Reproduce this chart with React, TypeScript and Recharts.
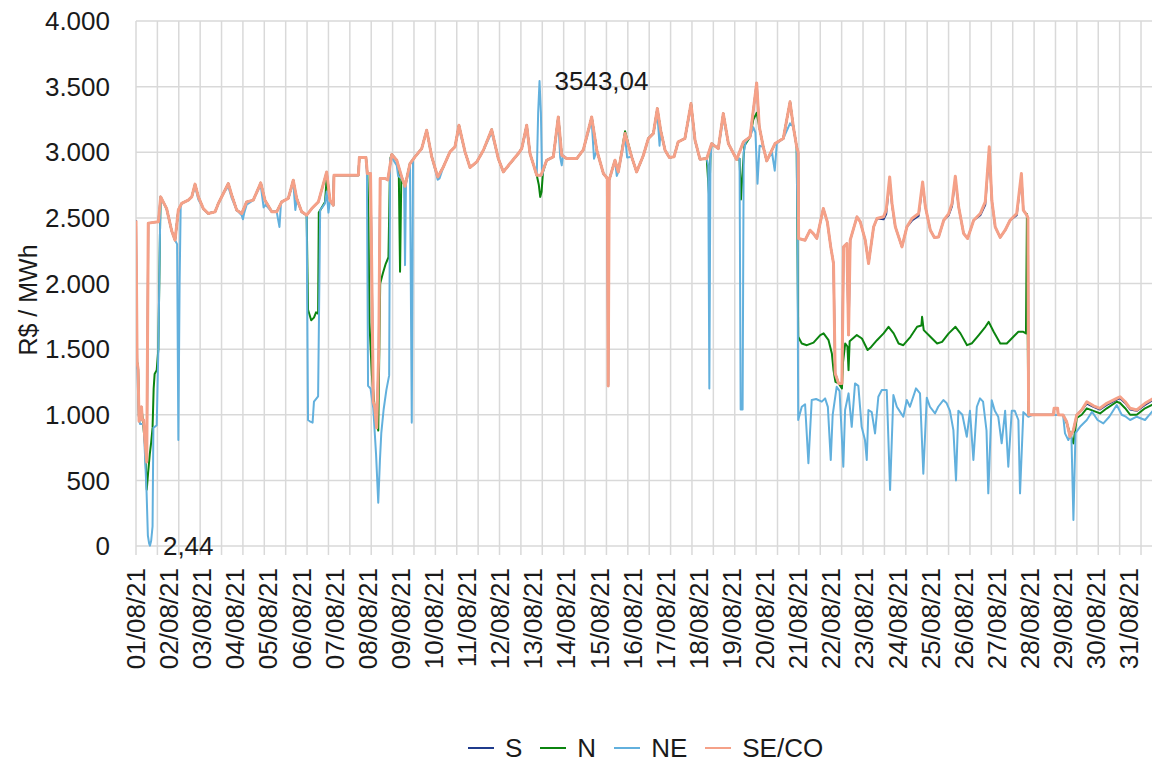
import { LineChart, Line, XAxis, YAxis, CartesianGrid, ReferenceDot } from "recharts";

// hour index from 01/08/21 00h (0 .. 744), price in R$/MWh
const dayLabels = [
  "01/08/21", "02/08/21", "03/08/21", "04/08/21", "05/08/21", "06/08/21", "07/08/21", "08/08/21",
  "09/08/21", "10/08/21", "11/08/21", "12/08/21", "13/08/21", "14/08/21", "15/08/21", "16/08/21",
  "17/08/21", "18/08/21", "19/08/21", "20/08/21", "21/08/21", "22/08/21", "23/08/21", "24/08/21",
  "25/08/21", "26/08/21", "27/08/21", "28/08/21", "29/08/21", "30/08/21", "31/08/21",
];
const dayTicks = dayLabels.map((_, i) => i * 24);
const gridTicks = Array.from({ length: 49 }, (_, i) => i * 15.5);
const yTicks = [0, 500, 1000, 1500, 2000, 2500, 3000, 3500, 4000];

const seco: [number, number][] = [
  [0, 2480], [0.8, 1400], [1.5, 1350], [2.2, 950], [3, 1000], [4, 1060], [4.6, 960], [5.5, 960], [6.5, 800], [7.8, 640], [8.9, 2460],
  [16.2, 2470], [17.9, 2660], [19.8, 2620], [22.2, 2570], [25.9, 2400], [28.3, 2330], [30.7, 2560], [33.1, 2610], [37.9, 2635],
  [40.4, 2660], [42.8, 2757], [45.2, 2660], [48.8, 2570], [52.4, 2533], [57.3, 2546], [59.7, 2610], [63.3, 2686], [66.9, 2762],
  [69.4, 2673], [73, 2559], [76.6, 2533], [80.2, 2622], [85, 2635], [90.4, 2767], [93.5, 2635], [98.4, 2546], [102, 2546],
  [105.6, 2622], [110.4, 2648], [114, 2787], [116.5, 2648], [120.1, 2546], [123.7, 2521], [127.4, 2571], [132.2, 2622],
  [138.2, 2850], [140.6, 2635], [143, 2597], [143.5, 2825], [161.2, 2825], [161.9, 2960], [166.7, 2960], [167.7, 2838],
  [170, 2838], [171, 2000], [172, 1100], [173, 1060], [174.5, 900], [176, 1500], [177, 2800], [180.5, 2800], [182.5, 2790],
  [185.4, 2983], [189, 2939], [192.6, 2812], [195, 2741], [198.6, 2914], [202.2, 2965], [207.1, 3028], [210.7, 3168],
  [214.4, 2965], [218.7, 2812], [222.8, 2888], [227.6, 3003], [231.2, 3041], [234.1, 3206], [238.5, 3003], [242.1, 2884],
  [247, 2926], [251.8, 3015], [257.8, 3173], [262.6, 2952], [266.3, 2850], [271.1, 2914], [277.1, 2990], [279.6, 3028],
  [283.2, 3206], [285.6, 2990], [290.5, 2825], [293.6, 2825], [297.7, 2939], [302.5, 2965], [306.1, 3269], [308.6, 2977],
  [312.2, 2952], [319.5, 2952], [324.3, 3020], [330.3, 3269], [334, 3015], [338.8, 2838], [341.7, 2800], [342.3, 1220],
  [343, 2790], [347.2, 2939], [349.6, 2850], [354.5, 3143], [359.3, 2965], [362.9, 2850], [367.8, 2977], [371.4, 3105],
  [375, 3143], [377.9, 3333], [380.3, 3167], [383.5, 3015], [386.6, 2960], [390, 2965], [393, 3079], [397.9, 3105],
  [402.3, 3371], [405.2, 3092], [408.8, 2947], [413.7, 2952], [417.3, 3066], [422.1, 3028], [425.7, 3295], [429.4, 3066],
  [435.4, 2945], [440.3, 3079], [445.1, 3117], [449.9, 3528], [451.8, 3193], [454.7, 3041], [457.2, 2934], [463.2, 3066],
  [469.2, 3105], [474.1, 3384], [476.5, 3193], [478.9, 3041], [480, 3000], [480.3, 2343], [485, 2330], [488.6, 2406],
  [491, 2380], [493.5, 2343], [498.2, 2571], [501.1, 2470], [503.6, 2279], [505.6, 2153], [506.8, 1315], [509.3, 1239],
  [511.7, 1239], [512.9, 2279], [515.3, 2305], [516.5, 1607], [517.7, 2330], [522.6, 2508], [525, 2470], [528.6, 2330],
  [531, 2153], [534.7, 2432], [537.1, 2495], [541.9, 2508], [543.8, 2559], [546.3, 2812], [548, 2610], [550.4, 2432],
  [555.2, 2279], [558.8, 2432], [562.5, 2495], [567.3, 2533], [570.2, 2774], [572.2, 2584], [575.8, 2406], [578.7, 2351],
  [581.8, 2355], [585.5, 2482], [589.1, 2533], [591.5, 2610], [593.9, 2818], [596.3, 2584], [599.9, 2381], [602.8, 2343],
  [607.2, 2482], [612, 2533], [615.6, 2622], [618.5, 3041], [620.4, 2630], [622.8, 2432], [626.4, 2351], [630, 2406],
  [633.6, 2482], [638.4, 2533], [641.8, 2838], [643.2, 2559], [645.7, 2521], [646.5, 2500], [647, 1000], [665, 1000],
  [665.5, 1050], [668, 1050], [668.5, 1000], [672, 998], [674.6, 947], [677, 832], [679.5, 883], [681.9, 998], [685.5, 1036],
  [689.2, 1099], [694, 1068], [698.8, 1049], [703.7, 1087], [710.9, 1125], [713.3, 1137], [717, 1099], [720.6, 1049],
  [725.4, 1036], [731.4, 1087], [737.5, 1125], [741.1, 1112], [744, 1100],
];

const sul: [number, number][] = [
  [0, 2480], [0.8, 1400], [1.5, 1350], [2.2, 950], [3, 1000], [4, 1060], [4.6, 960], [5.5, 960], [6.5, 800], [7.8, 640], [8.9, 2460],
  [16.2, 2470], [17.9, 2660], [19.8, 2620], [22.2, 2570], [25.9, 2400], [28.3, 2330], [30.7, 2560], [33.1, 2610], [37.9, 2635],
  [40.4, 2660], [42.8, 2757], [45.2, 2660], [48.8, 2570], [52.4, 2533], [57.3, 2546], [59.7, 2610], [63.3, 2686], [66.9, 2762],
  [69.4, 2673], [73, 2559], [76.6, 2533], [80.2, 2622], [85, 2635], [90.4, 2767], [93.5, 2635], [98.4, 2546], [102, 2546],
  [105.6, 2622], [110.4, 2648], [114, 2787], [116.5, 2648], [120.1, 2546], [123.7, 2521], [127.4, 2571], [132.2, 2622],
  [138.2, 2850], [140.6, 2635], [143, 2597], [143.5, 2825], [161.2, 2825], [161.9, 2960], [166.7, 2960], [167.7, 2838],
  [170, 2838], [171, 2000], [172, 1100], [173, 1060], [174.5, 900], [176, 1500], [177, 2800], [180.5, 2800], [182.5, 2790],
  [185.4, 2983], [189, 2939], [192.6, 2812], [195, 2741], [198.6, 2914], [202.2, 2965], [207.1, 3028], [210.7, 3168],
  [214.4, 2965], [218.7, 2812], [222.8, 2888], [227.6, 3003], [231.2, 3041], [234.1, 3206], [238.5, 3003], [242.1, 2884],
  [247, 2926], [251.8, 3015], [257.8, 3173], [262.6, 2952], [266.3, 2850], [271.1, 2914], [277.1, 2990], [279.6, 3028],
  [283.2, 3206], [285.6, 2990], [290.5, 2825], [293.6, 2825], [297.7, 2939], [302.5, 2965], [306.1, 3269], [308.6, 2977],
  [312.2, 2952], [319.5, 2952], [324.3, 3020], [330.3, 3269], [334, 3015], [338.8, 2838], [341.7, 2800], [342.3, 1220],
  [343, 2790], [347.2, 2939], [349.6, 2850], [354.5, 3143], [359.3, 2965], [362.9, 2850], [367.8, 2977], [371.4, 3105],
  [375, 3143], [377.9, 3333], [380.3, 3167], [383.5, 3015], [386.6, 2960], [390, 2965], [393, 3079], [397.9, 3105],
  [402.3, 3371], [405.2, 3092], [408.8, 2947], [413.7, 2952], [417.3, 3066], [422.1, 3028], [425.7, 3295], [429.4, 3066],
  [435.4, 2945], [440.3, 3079], [445.1, 3117], [449.9, 3528], [451.8, 3193], [454.7, 3041], [457.2, 2934], [463.2, 3066],
  [469.2, 3105], [474.1, 3384], [476.5, 3193], [478.9, 3041], [480, 3000], [480.3, 2343], [485, 2330], [488.6, 2406],
  [491, 2380], [493.5, 2343], [498.2, 2571], [501.1, 2470], [503.6, 2279], [505.6, 2153], [506.8, 1315], [509.3, 1239],
  [511.7, 1239], [512.9, 2279], [515.3, 2305], [516.5, 1607], [517.7, 2330], [522.6, 2508], [525, 2470], [528.6, 2330],
  [531, 2153], [534.7, 2432], [537.1, 2495], [541.9, 2490], [543.8, 2530], [546.3, 2790], [548, 2600], [550.4, 2432],
  [555.2, 2279], [558.8, 2432], [562.5, 2480], [567.3, 2515], [570.2, 2760], [572.2, 2584], [575.8, 2406], [578.7, 2351],
  [581.8, 2355], [585.5, 2482], [589.1, 2520], [591.5, 2590], [593.9, 2800], [596.3, 2584], [599.9, 2381], [602.8, 2343],
  [607.2, 2482], [612, 2520], [615.6, 2600], [618.5, 3020], [620.4, 2630], [622.8, 2432], [626.4, 2351], [630, 2406],
  [633.6, 2482], [638.4, 2520], [641.8, 2820], [643.2, 2559], [645.7, 2521], [646.5, 2500], [647, 1000], [665, 1000],
  [665.5, 1050], [668, 1050], [668.5, 1000], [672, 998], [674.6, 947], [677, 832], [679.5, 883], [681.9, 998], [685.5, 1036],
  [689.2, 1085], [694, 1060], [698.8, 1040], [703.7, 1075], [710.9, 1115], [713.3, 1125], [717, 1090], [720.6, 1040],
  [725.4, 1030], [731.4, 1075], [737.5, 1115], [741.1, 1100], [744, 1095],
];

const norte: [number, number][] = [
  [0, 1880], [0.8, 1400], [1.5, 1350], [2.2, 950], [3, 1000], [4, 1050], [5, 950], [6.5, 780], [7.8, 430], [8.8, 560],
  [10, 700], [11, 790], [12, 900], [12.8, 1200], [13.5, 1310], [15, 1340], [16.2, 1500], [17.5, 2470], [17.9, 2660],
  [19.8, 2620], [22.2, 2570], [25.9, 2400], [28.3, 2330], [30.7, 2560], [33.1, 2610], [37.9, 2635], [40.4, 2660],
  [42.8, 2757], [45.2, 2660], [48.8, 2570], [52.4, 2533], [57.3, 2546], [59.7, 2610], [63.3, 2686], [66.9, 2762],
  [69.4, 2673], [73, 2559], [76.6, 2533], [80.2, 2622], [85, 2635], [90.4, 2767], [93.5, 2635], [98.4, 2546], [102, 2546],
  [105.6, 2622], [110.4, 2648], [114, 2787], [115.5, 2690], [116.5, 2648], [120.1, 2546], [123.7, 2521], [124.7, 1800],
  [127, 1720], [129, 1740], [130.5, 1780], [132, 1770], [132.5, 2540], [137, 2620], [138.2, 2800], [140.6, 2635],
  [143, 2597], [143.5, 2825], [161.2, 2825], [161.9, 2960], [166.7, 2960], [167.7, 2838], [168.5, 2500], [169.2, 1700],
  [171, 1300], [173, 1050], [175.6, 880], [177, 2000], [179, 2080], [181, 2150], [183, 2200], [184.2, 2950], [185.4, 2983],
  [189, 2939], [190.5, 2830], [191.4, 2089], [192.3, 2800], [195, 2741], [198.6, 2914], [202.2, 2965], [207.1, 3028],
  [210.7, 3168], [214.4, 2965], [218.7, 2812], [222.8, 2888], [227.6, 3003], [231.2, 3041], [234.1, 3206], [238.5, 3003],
  [242.1, 2884], [247, 2926], [251.8, 3015], [257.8, 3173], [262.6, 2952], [266.3, 2850], [271.1, 2914], [277.1, 2990],
  [279.6, 3028], [283.2, 3206], [285.6, 2990], [290.5, 2825], [292, 2750], [293, 2660], [294, 2700], [295, 2850],
  [297.7, 2939], [302.5, 2965], [306.1, 3269], [308.6, 2977], [312.2, 2952], [319.5, 2952], [324.3, 3020], [330.3, 3269],
  [334, 3015], [338.8, 2838], [341.7, 2800], [343, 2790], [347.2, 2939], [349.6, 2850], [354.5, 3160], [359.3, 2965],
  [362.9, 2850], [367.8, 2977], [371.4, 3105], [375, 3143], [377.9, 3333], [380.3, 3167], [383.5, 3015], [386.6, 2960],
  [390, 2965], [393, 3079], [397.9, 3105], [402.3, 3371], [405.2, 3092], [408.8, 2947], [413.7, 2952], [415.6, 2640],
  [416.5, 3000], [417.3, 3066], [422.1, 3028], [425.7, 3295], [429.4, 3066], [435.4, 2945], [437.5, 2950], [438.5, 2640],
  [440, 2900], [441, 3050], [445.1, 3117], [447.5, 3250], [449.9, 3300], [451.8, 3193], [454.7, 3041], [457.2, 2934],
  [463.2, 3066], [469.2, 3105], [474.1, 3384], [476.5, 3193], [478.9, 3041], [480, 1594], [482.6, 1543], [486.3, 1530],
  [491.1, 1550], [496, 1607], [498.4, 1620], [502, 1568], [504.4, 1467], [505.6, 1340], [507, 1250], [509.3, 1239],
  [511.7, 1201], [512.5, 1400], [514.1, 1543], [515.7, 1520], [516.5, 1340], [517.3, 1560], [522.5, 1607], [526.2, 1581],
  [530.3, 1493], [532.3, 1510], [537.1, 1568], [541.9, 1620], [545.5, 1670], [549.2, 1620], [552.8, 1543], [556.2, 1530],
  [561.4, 1594], [566.2, 1670], [569.3, 1680], [569.8, 1746], [571, 1645], [575.8, 1594], [580.7, 1543], [584.3, 1555],
  [589.1, 1620], [594, 1670], [597.6, 1620], [602.4, 1530], [606, 1545], [610.9, 1607], [615.7, 1670], [618.1, 1708],
  [621.7, 1632], [626.5, 1543], [631.2, 1543], [636, 1594], [639.6, 1632], [643.2, 1632], [645.1, 1620], [645.8, 2530],
  [646.8, 1000], [672, 998], [674.6, 937], [677, 860], [679.5, 782], [681.9, 975], [685.5, 1000], [689.2, 1049],
  [694, 1030], [698.8, 1010], [703.7, 1049], [710.9, 1099], [713.3, 1090], [717, 1050], [720.6, 1000], [725.4, 1000],
  [731.4, 1049], [737.5, 1080], [741.1, 1060], [744, 1050],
];

const nordeste: [number, number][] = [
  [0, 1400], [1, 1340], [2, 1000], [2.9, 930], [5.5, 930], [6.5, 700], [7.7, 400], [8.6, 80], [9.5, 20], [10.1, 2.44],
  [11, 40], [12, 150], [12.6, 900], [15, 920], [16.2, 1500], [17.5, 2470], [17.9, 2660], [19.8, 2620], [22.2, 2570],
  [25.9, 2400], [28.3, 2330], [29.8, 2300], [30.7, 807], [31.6, 2000], [32.4, 2590], [33.1, 2610], [37.9, 2635],
  [40.4, 2660], [42.8, 2740], [45.2, 2640], [48.8, 2570], [52.4, 2533], [57.3, 2546], [59.7, 2610], [63.3, 2686],
  [66.9, 2740], [69.4, 2650], [73, 2559], [76.6, 2520], [77.5, 2490], [78.5, 2540], [80.2, 2600], [85, 2635], [90.4, 2750],
  [92.5, 2580], [94, 2600], [98.4, 2546], [102, 2546], [104, 2430], [105, 2600], [105.6, 2622], [110.4, 2648], [114, 2770],
  [115.5, 2560], [116.5, 2640], [120.1, 2546], [123.7, 2521], [124.7, 960], [126, 950], [128, 940], [129, 1100],
  [132, 1140], [133.5, 2560], [135, 2580], [137, 2610], [138.2, 2700], [139.5, 2540], [140.6, 2635], [143, 2597],
  [143.5, 2825], [161.2, 2825], [161.9, 2960], [166.7, 2960], [167.4, 2830], [168.2, 1220], [170, 1200], [172, 1050],
  [174, 700], [175.6, 330], [176.8, 650], [177.8, 860], [179.5, 1040], [181.5, 1190], [183.5, 1300], [184.2, 2950],
  [185.4, 2960], [189, 2900], [190, 2820], [192.6, 2800], [194.3, 2760], [195, 2140], [195.7, 2760], [198.6, 2900],
  [199.9, 940], [200.8, 2950], [202.2, 2965], [207.1, 3028], [210.7, 3168], [214.4, 2965], [218.7, 2790], [220, 2800],
  [222.8, 2888], [227.6, 3003], [231.2, 3041], [234.1, 3180], [238.5, 3003], [242.1, 2884], [247, 2926], [251.8, 3015],
  [257.8, 3150], [262.6, 2952], [266.3, 2850], [271.1, 2914], [277.1, 2990], [279.6, 3028], [283.2, 3180], [285.6, 2990],
  [290.5, 2825], [291.5, 3300], [292.5, 3543.04], [293.5, 3300], [294.3, 2825], [297.7, 2939], [302.5, 2965],
  [306.1, 3240], [307.5, 2960], [308.6, 2900], [309.5, 2977], [312.2, 2952], [319.5, 2952], [324.3, 3020], [330.3, 3240],
  [332, 2950], [334, 3015], [338.8, 2838], [341.7, 2800], [343, 2790], [347.2, 2939], [348.5, 2820], [349.6, 2850],
  [354.5, 3120], [356, 2960], [359.3, 2965], [362.9, 2850], [367.8, 2977], [371.4, 3105], [375, 3143], [377.9, 3300],
  [379.5, 3050], [380.3, 3167], [383.5, 3015], [386.6, 2960], [390, 2965], [393, 3079], [397.9, 3105], [402.3, 3340],
  [405.2, 3092], [408.8, 2947], [413.7, 2952], [414.8, 2900], [415.6, 1200], [416.4, 2950], [417.3, 3066], [422.1, 3028],
  [425.7, 3260], [429.4, 3066], [435.4, 2945], [437.5, 2950], [438.3, 1040], [439.7, 1040], [440.5, 3000], [442, 3079],
  [445.1, 3117], [447.5, 3190], [449, 3150], [450.5, 2760], [452, 3050], [454.7, 3041], [457.2, 2934], [461, 3000],
  [463, 2860], [464.5, 3066], [469.2, 3105], [474.1, 3220], [476.5, 3193], [478.9, 3041], [479.5, 2355], [480, 960],
  [482.6, 1061], [485, 1080], [487.4, 630], [489.8, 1112], [493, 1120], [497.1, 1100], [499.5, 1125], [501.5, 1060],
  [503.6, 655], [505, 1000], [507.9, 1213], [510, 1180], [512.7, 604], [514, 1036], [516.5, 1163], [518.8, 908],
  [521.2, 1239], [523.6, 1220], [526, 908], [528.4, 807], [529.7, 655], [530.9, 1036], [533.3, 1020], [535.7, 858],
  [538.1, 1137], [540.6, 1188], [544.2, 1188], [546.6, 426], [549, 1150], [551.5, 1061], [554, 1020], [556.2, 985],
  [558.7, 1112], [561, 1061], [565.4, 1201], [568.3, 1163], [570.7, 550], [573.2, 1130], [575.5, 1061], [579.2, 1010],
  [581.5, 1061], [585.2, 1112], [587.5, 1090], [590, 1030], [592.5, 883], [594.4, 500], [596.1, 1030], [599, 1000],
  [602.2, 832], [604.5, 1030], [607, 655], [609.5, 1061], [611.8, 1125], [614, 1100], [616.5, 880], [617.8, 401],
  [620.3, 1110], [622.5, 1030], [625, 985], [627.5, 782], [630, 1030], [632.3, 604], [634.8, 1030], [637, 1030],
  [639.6, 960], [640.8, 401], [643.2, 1020], [646.8, 985], [650, 1000], [672, 998], [673.4, 858], [675.8, 807],
  [678, 860], [679.5, 198], [681, 860], [684.3, 908], [689.2, 960], [693, 1023], [697, 960], [701.2, 934], [705.5, 985],
  [710.9, 1074], [714.5, 1000], [717.5, 985], [720.6, 960], [725.4, 985], [731.4, 960], [737.5, 1036], [740, 960],
  [744, 960],
];

const series = [
  { name: "S", color: "#1F3B8C", width: 2, points: sul },
  { name: "N", color: "#0B840F", width: 2, points: norte },
  { name: "NE", color: "#62B0DD", width: 2, points: nordeste },
  { name: "SE/CO", color: "#F5A188", width: 3, points: seco },
];

const font = '"Liberation Sans", Arial, sans-serif';
const textColor = "#1a1a1a";
const gridColor = "#D9D9D9";

const fmtThousands = (v: number) => String(v).replace(/\B(?=(\d{3})+(?!\d))/g, ".");

const DayTick = (props: any) => {
  const { x, y, payload } = props;
  const label = dayLabels[Math.round(payload.value / 24)];
  return (
    <text
      x={x + 9}
      y={y + 4}
      transform={`rotate(-90, ${x + 9}, ${y + 4})`}
      textAnchor="end"
      fontSize={26}
      fontFamily={font}
      fill={textColor}
    >
      {label}
    </text>
  );
};

// grid axis: tick marks only, no text
const NoLabel = () => <g />;

export default function App() {
  return (
    <div
      style={{
        position: "relative",
        width: 1160,
        height: 765,
        margin: "-8px 0 -8px -8px",
        overflow: "hidden",
        background: "#fff",
        fontFamily: font,
      }}
    >
      <LineChart width={1170} height={686} margin={{ top: 21, right: 7.6, bottom: 0, left: 0 }}>
        <XAxis
          xAxisId="a-grid"
          type="number"
          dataKey="h"
          domain={[0, 744]}
          ticks={gridTicks}
          interval={0}
          tick={<NoLabel />}
          tickSize={9}
          tickLine={{ stroke: gridColor, strokeWidth: 1.5 }}
          axisLine={false}
          height={10}
          allowDataOverflow
        />
        <XAxis
          xAxisId="b-days"
          type="number"
          dataKey="h"
          domain={[0, 744]}
          ticks={dayTicks}
          interval={0}
          tick={<DayTick />}
          tickLine={false}
          axisLine={false}
          height={130}
          allowDataOverflow
        />
        <YAxis
          type="number"
          domain={[0, 4000]}
          ticks={yTicks}
          interval={0}
          width={136}
          tickLine={false}
          axisLine={false}
          tickMargin={20}
          tickFormatter={fmtThousands}
          tick={{ fontSize: 26, fill: textColor, fontFamily: font }}
        />
        <CartesianGrid xAxisId="a-grid" stroke={gridColor} strokeWidth={1.5} />
        {series.map((s) => (
          <Line
            key={s.name}
            xAxisId="b-days"
            data={s.points.map(([h, v]) => ({ h, v }))}
            dataKey="v"
            name={s.name}
            type="linear"
            stroke={s.color}
            strokeWidth={s.width}
            strokeLinejoin="round"
            dot={false}
            activeDot={false}
            isAnimationActive={false}
          />
        ))}
        <ReferenceDot
          xAxisId="b-days"
          x={10.1}
          y={2.44}
          r={0}
          fill="none"
          stroke="none"
          label={{ value: "2,44", position: "right", offset: 13, fontSize: 26, fill: textColor, fontFamily: font }}
        />
        <ReferenceDot
          xAxisId="b-days"
          x={292.5}
          y={3543.04}
          r={0}
          fill="none"
          stroke="none"
          label={{ value: "3543,04", position: "right", offset: 15, fontSize: 26, fill: textColor, fontFamily: font }}
        />
      </LineChart>

      <div
        style={{
          position: "absolute",
          left: 28,
          top: 300,
          transform: "translate(-50%, -50%) rotate(-90deg)",
          fontSize: 25,
          color: textColor,
          whiteSpace: "nowrap",
        }}
      >
        R$ / MWh
      </div>

      <div
        style={{
          position: "absolute",
          left: 468,
          top: 733,
          display: "flex",
          alignItems: "center",
          fontSize: 26,
          color: textColor,
          lineHeight: "30px",
        }}
      >
        {series.map((s) => (
          <div key={s.name} style={{ display: "flex", alignItems: "center", marginRight: 18 }}>
            <span style={{ display: "inline-block", width: 26, height: 2.5, background: s.color, marginRight: 11 }} />
            <span>{s.name}</span>
          </div>
        ))}
      </div>
    </div>
  );
}
